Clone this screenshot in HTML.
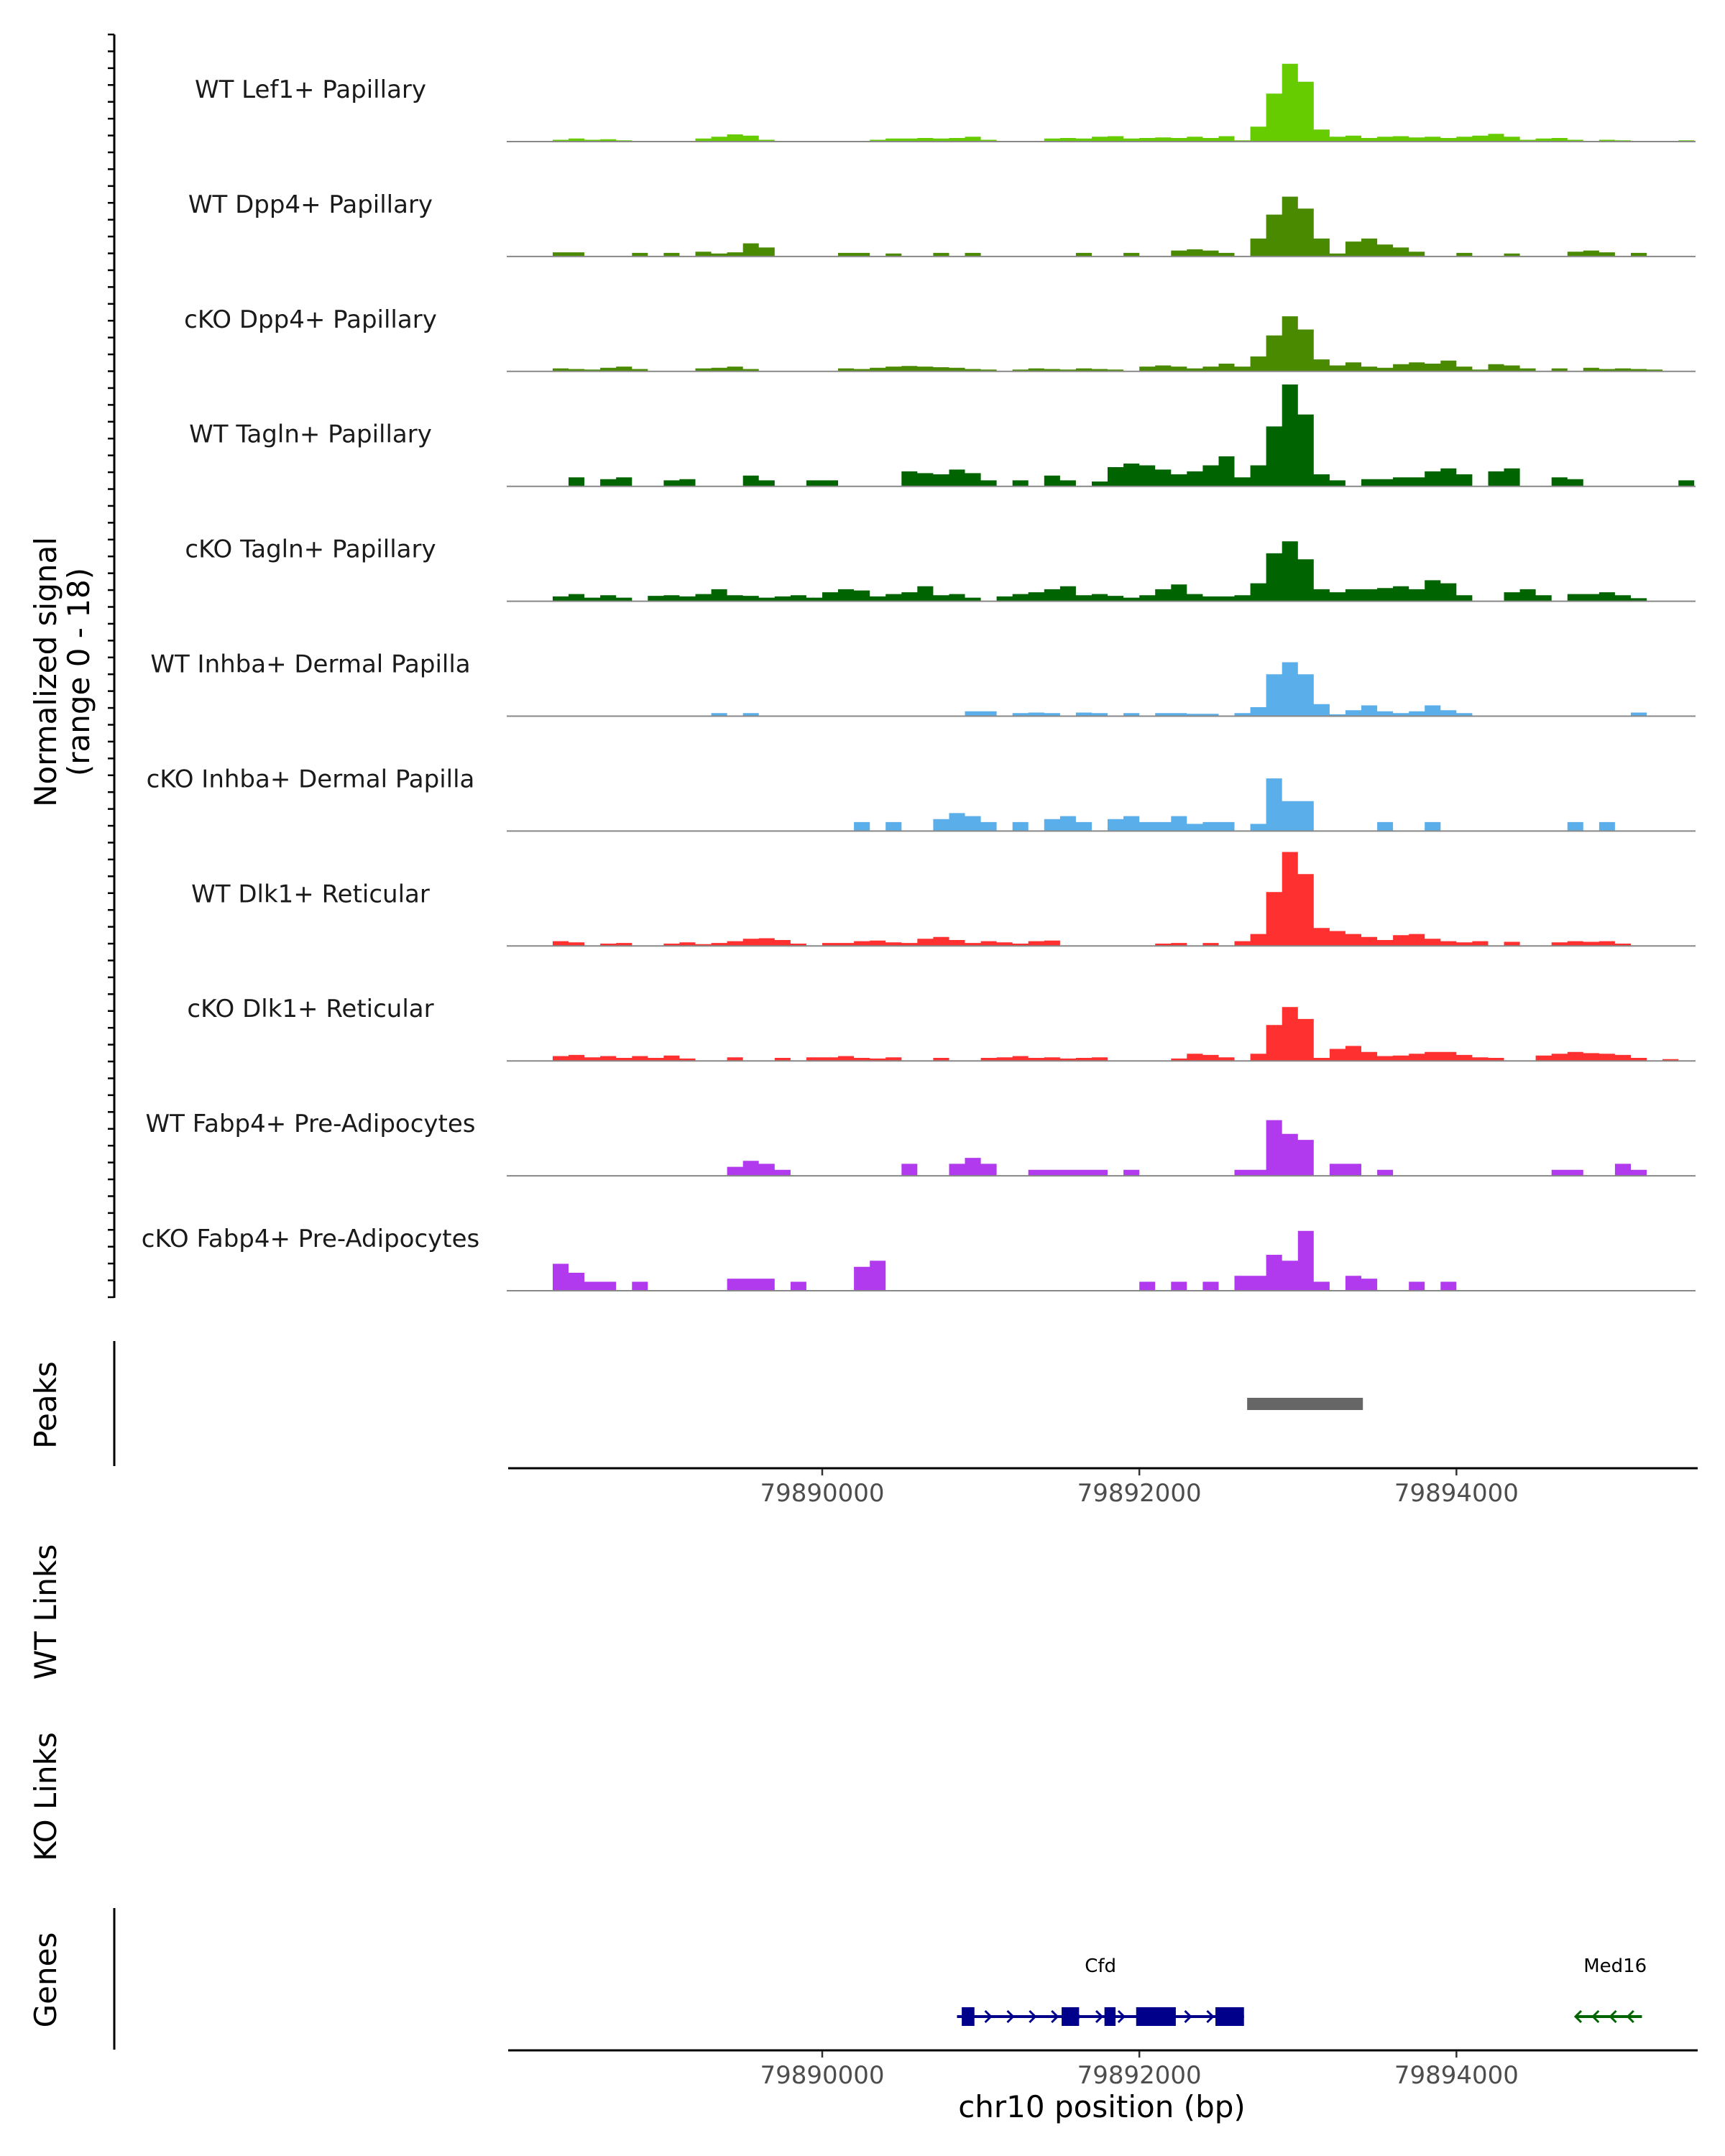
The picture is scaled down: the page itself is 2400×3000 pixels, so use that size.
<!DOCTYPE html>
<html><head><meta charset="utf-8"><style>
html,body{margin:0;padding:0;background:#fff}
svg{display:block;font-family:"DejaVu Sans","Liberation Sans",sans-serif}
</style></head><body>
<svg id="chart" width="2400" height="3000" viewBox="0 0 2400 3000" xmlns="http://www.w3.org/2000/svg">
<g id="tracks"></g>
<line x1="159" y1="48" x2="159" y2="1806" stroke="#000" stroke-width="3"/>
<g id="lticks"></g>
<text transform="translate(78,935) rotate(-90)" text-anchor="middle" font-size="42"><tspan x="0" dy="0">Normalized signal</tspan><tspan x="0" dy="46">(range 0 - 18)</tspan></text>

<line x1="159" y1="1866" x2="159" y2="2040" stroke="#000" stroke-width="3"/>
<text transform="translate(78,1955) rotate(-90)" text-anchor="middle" font-size="42">Peaks</text>
<g id="peaks"></g>
<line x1="707" y1="2043" x2="2362" y2="2043" stroke="#000" stroke-width="3"/>
<g id="ticks1"></g>

<text transform="translate(78,2243) rotate(-90)" text-anchor="middle" font-size="42">WT Links</text>
<text transform="translate(78,2500) rotate(-90)" text-anchor="middle" font-size="42">KO Links</text>

<line x1="159" y1="2655" x2="159" y2="2852" stroke="#000" stroke-width="3"/>
<text transform="translate(78,2755) rotate(-90)" text-anchor="middle" font-size="42">Genes</text>
<g id="genes"></g>
<line x1="707" y1="2853" x2="2362" y2="2853" stroke="#000" stroke-width="3"/>
<g id="ticks2"></g>
<text x="1533" y="2946" text-anchor="middle" font-size="42">chr10 position (bp)</text>
</svg>
<script>
const binStart = 79888000;
const binSize = 100;
const trackNames = ["WT Lef1+ Papillary","WT Dpp4+ Papillary","cKO Dpp4+ Papillary","WT Tagln+ Papillary","cKO Tagln+ Papillary","WT Inhba+ Dermal Papilla","cKO Inhba+ Dermal Papilla","WT Dlk1+ Reticular","cKO Dlk1+ Reticular","WT Fabp4+ Pre-Adipocytes","cKO Fabp4+ Pre-Adipocytes"];
const trackColors = ["#66cc00","#4a8a00","#4a8a00","#006400","#006400","#5aaeea","#5aaeea","#ff3030","#ff3030","#b23aee","#b23aee"];
const lef1WT = [0,0,0,0.3,0.5,0.3,0.4,0.2,0,0, 0,0,0.5,0.8,1.2,1.0,0.3,0,0,0, 0,0,0,0.3,0.5,0.5,0.6,0.5,0.6,0.8, 0.3,0,0,0,0.5,0.6,0.5,0.8,0.9,0.5, 0.6,0.7,0.6,0.8,0.6,0.9,0.2,2.5,8,13, 10,2,0.8,1,0.6,0.8,0.9,0.7,0.8,0.6, 0.8,1.0,1.3,0.8,0.3,0.5,0.6,0.3,0,0.3, 0.2,0,0,0,0.2];
const dpp4WT = [0,0,0,0.7,0.7,0,0,0,0.6,0, 0.6,0,0.8,0.5,0.7,2.2,1.5,0,0,0, 0,0.6,0.6,0,0.5,0,0,0.6,0,0.6, 0,0,0,0,0,0,0.6,0,0,0.6, 0,0,1.0,1.2,1.0,0.6,0,3,7,10, 8,3,0.5,2.5,3,2,1.5,0.8,0,0, 0.6,0,0,0.5,0,0,0,0.8,1.0,0.7, 0,0.6,0,0,0];
const dpp4KO = [0,0,0,0.5,0.4,0.3,0.6,0.8,0.4,0, 0,0,0.5,0.6,0.8,0.4,0,0,0,0, 0,0.5,0.4,0.6,0.8,0.9,0.8,0.7,0.6,0.4, 0.3,0,0.3,0.5,0.4,0.3,0.5,0.4,0.3,0, 0.8,1.0,0.8,0.5,0.8,1.3,0.8,2.5,6,9.2, 7,2,1.0,1.5,0.8,0.6,1.2,1.5,1.3,1.8, 0.8,0.3,1.2,1.0,0.5,0,0.5,0,0.6,0.4, 0.5,0.4,0.3,0,0];
const taglnWT = [0,0,0,0,1.5,0,1.2,1.5,0,0, 1.0,1.2,0,0,0,1.8,1.0,0,0,1.0, 1.0,0,0,0,0,2.5,2.2,2.0,2.8,2.2, 1.0,0,1.0,0,1.8,1.0,0,0.8,3.2,3.8, 3.5,2.8,2.0,2.5,3.5,5,1.5,3.5,10,17, 12,2,1.0,0,1.2,1.2,1.5,1.5,2.5,3.0, 2.0,0,2.5,3.0,0,0,1.5,1.2,0,0, 0,0,0,0,1.0];
const taglnKO = [0,0,0,0.8,1.2,0.6,1.0,0.6,0,0.9, 1.0,0.8,1.2,2.0,1.0,0.9,0.6,0.8,1.0,0.6, 1.5,2.0,1.8,0.8,1.2,1.5,2.5,1.0,1.2,0.6, 0,0.8,1.2,1.5,2.0,2.5,1.0,1.2,0.9,0.6, 1.0,2.0,2.8,1.2,0.8,0.8,1.0,3,8,10, 7,2,1.5,2.0,2.0,2.2,2.5,2.0,3.5,3.0, 1.0,0,0,1.5,2.0,1.0,0,1.2,1.2,1.5, 1.0,0.5,0,0,0];
const inhbaWT = [0,0,0,0,0,0,0,0,0,0, 0,0,0,0.5,0,0.5,0,0,0,0, 0,0,0,0,0,0,0,0,0,0.8, 0.8,0,0.5,0.6,0.5,0,0.6,0.5,0,0.5, 0,0.5,0.5,0.4,0.4,0,0.5,1.5,7,9, 7,2,0.3,1.0,1.8,0.8,0.5,0.8,1.8,1.0, 0.5,0,0,0,0,0,0,0,0,0, 0,0.6,0,0,0];
const inhbaKO = [0,0,0,0,0,0,0,0,0,0, 0,0,0,0,0,0,0,0,0,0, 0,0,1.5,0,1.5,0,0,2.0,3,2.5, 1.5,0,1.5,0,2.0,2.5,1.5,0,2.0,2.5, 1.5,1.5,2.5,1.2,1.5,1.5,0,1.2,8.8,5, 5,0,0,0,0,1.5,0,0,1.5,0, 0,0,0,0,0,0,0,1.5,0,1.5, 0,0,0,0,0];
const dlk1WT = [0,0,0,0.8,0.6,0,0.4,0.5,0,0, 0.4,0.6,0.3,0.5,0.8,1.2,1.3,1.0,0.4,0, 0.5,0.5,0.8,0.9,0.6,0.5,1.2,1.5,1.0,0.5, 0.8,0.6,0.4,0.8,0.9,0,0,0,0,0, 0,0.4,0.5,0,0.5,0,0.8,2,9,15.7, 12,3,2.5,2.0,1.5,1.0,1.8,2.0,1.2,0.8, 0.6,0.8,0,0.7,0,0,0.6,0.8,0.7,0.8, 0.4,0,0,0,0];
const dlk1KO = [0,0,0,0.8,1.0,0.6,0.8,0.5,0.8,0.5, 0.9,0.4,0,0,0.6,0,0,0.5,0,0.6, 0.6,0.8,0.5,0.4,0.6,0,0,0.5,0,0, 0.5,0.6,0.8,0.5,0.6,0.4,0.5,0.6,0,0, 0,0,0.4,1.2,1.0,0.6,0,1.2,6,9, 7,0.5,2.0,2.5,1.5,0.8,0.9,1.2,1.5,1.5, 1.0,0.6,0.5,0,0,0.9,1.2,1.5,1.3,1.2, 1.0,0.5,0,0.3,0];
const fabp4WT = [0,0,0,0,0,0,0,0,0,0, 0,0,0,0,1.5,2.5,2.0,1.0,0,0, 0,0,0,0,0,2.0,0,0,2.0,3.0, 2.0,0,0,1.0,1.0,1.0,1.0,1.0,0,1.0, 0,0,0,0,0,0,1.0,1.0,9.3,7, 6,0,2.0,2.0,0,1.0,0,0,0,0, 0,0,0,0,0,0,1.0,1.0,0,0, 2.0,1.0,0,0,0];
const fabp4KO = [0,0,0,4.5,3.0,1.5,1.5,0,1.5,0, 0,0,0,0,2.0,2.0,2.0,0,1.5,0, 0,0,4.0,5.0,0,0,0,0,0,0, 0,0,0,0,0,0,0,0,0,0, 1.5,0,1.5,0,1.5,0,2.5,2.5,6,5, 10,1.5,0,2.5,2.0,0,0,1.5,0,1.5, 0,0,0,0,0,0,0,0,0,0, 0,0,0,0,0];
const trackValues = [lef1WT,dpp4WT,dpp4KO,taglnWT,taglnKO,inhbaWT,inhbaKO,dlk1WT,dlk1KO,fabp4WT,fabp4KO];
const tickValues = [79890000,79892000,79894000];
const tickLabels = ["79890000","79892000","79894000"];
const peakStart = 79892680, peakEnd = 79893410;
const cfdExons = [[79890880,79890960],[79891510,79891620],[79891780,79891850],[79891980,79892230],[79892480,79892660]];
const cfdSpan = [79890850,79892660];
const med16Span = [79894760,79895170];

const NS='http://www.w3.org/2000/svg';
const X0=705, X1=2359, BP0=79888010, BP1=79895508;
const xs = bp => X0 + (bp-BP0)/(BP1-BP0)*(X1-X0);
const yMax=18, trackH=150;
function el(t,a,p){const e=document.createElementNS(NS,t);for(const k in a)e.setAttribute(k,a[k]);p.appendChild(e);return e;}

const tracksG=document.getElementById('tracks');
trackValues.forEach((vals,k)=>{
  const base=197+k*159.9;
  const g=el('g',{},tracksG);
  
  
  let d='M'+xs(binStart)+','+base;
  vals.forEach((v,i)=>{
    const xa=xs(binStart+i*binSize), xb=xs(binStart+(i+1)*binSize);
    const y=base - v/yMax*trackH;
    d+=' L'+xa.toFixed(1)+','+y.toFixed(1)+' L'+xb.toFixed(1)+','+y.toFixed(1);
  });
  d+=' L'+xs(binStart+vals.length*binSize)+','+base+' Z';
  const p=el('path',{d:d,fill:trackColors[k]},g);
  
  
  const ln=el('line',{x1:X0,x2:X1,y1:base,y2:base,stroke:'#888','stroke-width':2},g);
  
  
  const t=el('text',{x:432,y:base-61,'text-anchor':'middle','font-size':34,fill:'#1a1a1a'},g);
  t.textContent=trackNames[k];
  
  
});
const lt=document.getElementById('lticks');
for(let i=0;i<76;i++){const y=48+i*(1757/75);const l=el('line',{x1:150,x2:159,y1:y,y2:y,stroke:'#000','stroke-width':2.5},lt);

}
const pk=document.getElementById('peaks');
const pr=el('rect',{x:xs(peakStart),y:1945,width:xs(peakEnd)-xs(peakStart),height:17,fill:'#666'},pk);


function ticks(id,y){const g=document.getElementById(id);tickValues.forEach((v,i)=>{
  const x=xs(v);const l=el('line',{x1:x,x2:x,y1:y,y2:y+9,stroke:'#333','stroke-width':2.5},g);
  
  
  const t=el('text',{x:x,y:y+45,'text-anchor':'middle','font-size':34,fill:'#4d4d4d'},g);t.textContent=tickLabels[i];
  
  });}
ticks('ticks1',2044);ticks('ticks2',2854);
const gg=document.getElementById('genes');
const gy=2806;
const cl=el('line',{x1:xs(cfdSpan[0]),x2:xs(cfdSpan[1]),y1:gy,y2:gy,stroke:'#00008b','stroke-width':4},gg);


for(let bp=cfdSpan[0]+60;bp<cfdSpan[1];bp+=140){const x=xs(bp);const a=el('path',{d:`M${x-5},${gy-8} L${x+3},${gy} L${x-5},${gy+8}`,fill:'none',stroke:'#00008b','stroke-width':3},gg);

}
cfdExons.forEach(e=>{const r=el('rect',{x:xs(e[0]),y:gy-13,width:xs(e[1])-xs(e[0]),height:26,fill:'#00008b'},gg);

});
const ct=el('text',{x:xs((cfdSpan[0]+cfdSpan[1])/2),y:2744,'text-anchor':'middle','font-size':26},gg);ct.textContent='Cfd';


const ml=el('line',{x1:xs(med16Span[0]),x2:xs(med16Span[1]),y1:gy,y2:gy,stroke:'#006400','stroke-width':4},gg);


for(let bp=med16Span[0];bp<med16Span[1];bp+=110){const x=xs(bp);const a=el('path',{d:`M${x+6},${gy-8} L${x-2},${gy} L${x+6},${gy+8}`,fill:'none',stroke:'#006400','stroke-width':3},gg);

}
const mt=el('text',{x:xs((med16Span[0]+med16Span[1])/2)+8,y:2744,'text-anchor':'middle','font-size':26},gg);mt.textContent='Med16';


</script>
</body></html>
